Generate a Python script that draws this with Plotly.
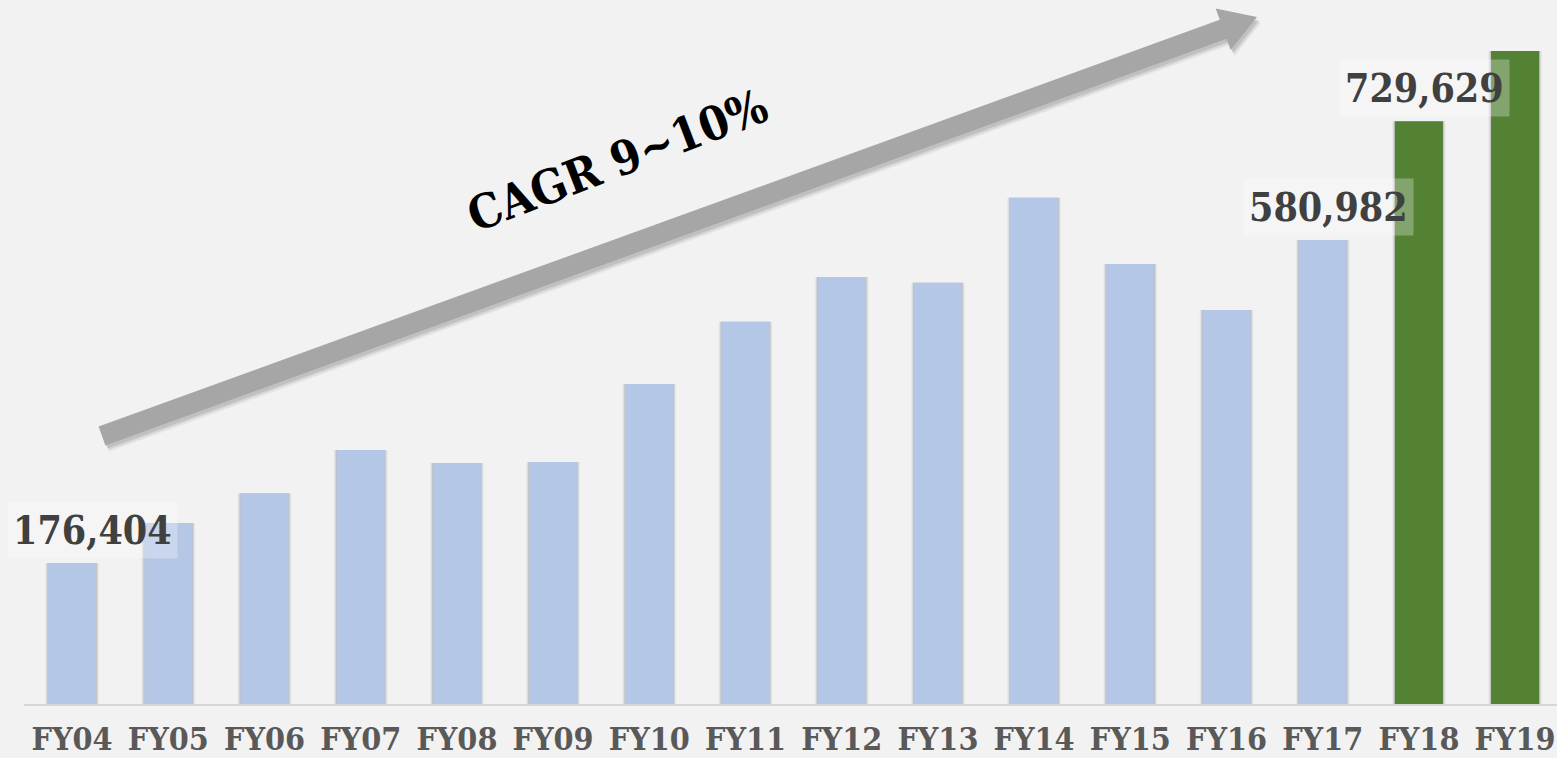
import plotly.graph_objects as go

years = ["FY04", "FY05", "FY06", "FY07", "FY08", "FY09", "FY10", "FY11",
         "FY12", "FY13", "FY14", "FY15", "FY16", "FY17", "FY18", "FY19"]
values = [176404, 226600, 263800, 318000, 301700, 303000, 400600, 478600,
          534600, 527500, 633900, 550900, 493300, 580982, 729629, 817600]
highlight_years = ["FY18", "FY19"]
labeled_years = ["FY04", "FY17", "FY18"]
cagr_text = "CAGR 9~10%"

W, H = 1557, 758
ML, MR, MT, MB = 24, 0, 0, 54
PW, PH = W - ML - MR, H - MT - MB
YMAX = 881400

BLUE = "#B4C7E7"
GREEN = "#548235"
BG = "#F2F2F2"
SERIF = "DejaVu Serif Condensed, DejaVu Serif, serif"

colors = [GREEN if y in highlight_years else BLUE for y in years]

fig = go.Figure()
# soft shadows behind the bars
for w, a in [(0.56, 0.06), (0.535, 0.12), (0.515, 0.18)]:
    fig.add_trace(go.Bar(x=years, y=values, width=w,
                         marker=dict(color=f"rgba(90,90,90,{a})", line=dict(width=0)),
                         hoverinfo="skip", showlegend=False))
fig.add_trace(go.Bar(x=years, y=values, width=0.5,
                     marker=dict(color=colors, line=dict(width=0)),
                     showlegend=False))

# data labels
for y, v in zip(years, values):
    if y in labeled_years:
        xs = 20 if y == years[0] else 6
        fig.add_annotation(x=y, y=v, xref="x", yref="y", text=f"<b>{v:,}</b>",
                           showarrow=False, xanchor="center", yanchor="middle",
                           xshift=xs, yshift=33,
                           font=dict(family=SERIF, size=39, color="#404040"),
                           bgcolor="rgba(255,255,255,0.28)", borderpad=5)

# arrow (pixel geometry converted to paper coordinates)
import math
tail = (102.0, 436.0)
tip = (1257.0, 17.0)
dx, dy = tip[0] - tail[0], tip[1] - tail[1]
L = math.hypot(dx, dy)
ux, uy = dx / L, dy / L
nx, ny = -uy, ux
hw, head_len, head_hw = 10.0, 36.0, 22.0


def P(s, t):
    return (tail[0] + ux * s + nx * t, tail[1] + uy * s + ny * t)


pts = [P(0, -hw), P(L - head_len, -hw), P(L - head_len, -head_hw), P(L, 0),
       P(L - head_len, head_hw), P(L - head_len, hw), P(0, hw)]


def to_paper(p, ox=0.0, oy=0.0):
    return ((p[0] + ox - ML) / PW, (MT + PH - (p[1] + oy)) / PH)


def path(ox=0.0, oy=0.0):
    qs = [to_paper(p, ox, oy) for p in pts]
    return "M " + " L ".join(f"{x:.5f},{y:.5f}" for x, y in qs) + " Z"


for (ox, oy, a) in [(4, 6, 0.05), (3, 4.5, 0.07), (2, 3, 0.09)]:
    fig.add_shape(type="path", xref="paper", yref="paper", path=path(ox, oy),
                  fillcolor=f"rgba(0,0,0,{a})", line=dict(width=0), layer="above")
fig.add_shape(type="path", xref="paper", yref="paper", path=path(),
              fillcolor="#A6A6A6", line=dict(width=0), layer="above")

fig.add_annotation(x=(617 - ML) / PW, y=(MT + PH - 160) / PH, xref="paper", yref="paper",
                   text=f"<b>{cagr_text}</b>", showarrow=False, textangle=-21,
                   xanchor="center", yanchor="middle",
                   font=dict(family=SERIF, size=47, color="#000000"))

fig.update_layout(
    width=W, height=H,
    margin=dict(l=ML, r=MR, t=MT, b=MB, pad=0, autoexpand=False),
    paper_bgcolor=BG, plot_bgcolor=BG,
    barmode="overlay",
    showlegend=False,
    xaxis=dict(type="category", range=[-0.5, -0.5 + PW / 96.2],
               showline=True, linecolor="#D6D6D6", linewidth=2,
               showgrid=False, zeroline=False, ticks="", automargin=False,
               ticklabelstandoff=6,
               tickfont=dict(family=SERIF, size=32, color="#595959", weight="bold")),
    yaxis=dict(range=[0, YMAX], visible=False, showgrid=False, zeroline=False,
               automargin=False),
)

fig.write_html("out.html")
